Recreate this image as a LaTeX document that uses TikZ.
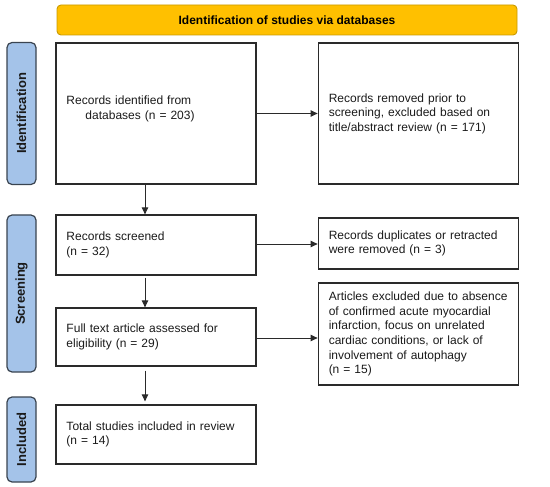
\documentclass[tikz,border=0pt]{standalone}
\usepackage{fontspec}
\setmainfont{Liberation Sans}
\usetikzlibrary{arrows.meta}
\definecolor{gold}{HTML}{FFC000}
\definecolor{goldedge}{HTML}{C99A00}
\definecolor{sideblue}{HTML}{A4C3E9}
\definecolor{sideedge}{HTML}{3A4450}
\definecolor{boxedge}{HTML}{2A2A2A}
\definecolor{txt}{HTML}{1A1A1A}
\begin{document}
\begin{tikzpicture}[x=1pt,y=-1pt,
  box/.style={draw=boxedge,line width=1.3pt,rectangle,inner xsep=10.5pt,inner ysep=2pt,
    align=left,text width=179pt,text=txt,font=\fontsize{12}{14.6}\selectfont},
  sidebar/.style={draw=sideedge,fill=sideblue,line width=1.2pt,rounded corners=5pt,
    rotate=90,minimum height=29pt,inner sep=0pt,text=txt,font=\bfseries\fontsize{13}{15}\selectfont},
  banner/.style={draw=goldedge,fill=gold,line width=0.9pt,rounded corners=4pt,
    minimum width=460pt,minimum height=30pt,inner sep=0pt,text=black,font=\bfseries\fontsize{12}{14}\selectfont},
  arr/.style={draw=boxedge,line width=0.9pt,-{Triangle[length=7pt,width=6.5pt]}}]
\useasboundingbox (0,0) rectangle (550,487);

\node[banner] (ban) at (287,20) {Identification of studies via databases};

\node[sidebar,minimum width=142pt] (sid) at (21.5,113.5) {Identification};
\node[sidebar,minimum width=157pt] (sscr) at (21.5,293.5) {Screening};
\node[sidebar,minimum width=85pt] (sinc) at (21.5,439.5) {Included};

\node[box,minimum height=141pt] (A) at (156,113.5)
  {Records identified from\\\hspace*{19pt}databases (n = 203)\\[-2.6pt]\mbox{}};
\node[box,minimum height=141pt] (B) at (418.25,113.5)
  {Records removed prior to\\screening, excluded based on\\title/abstract review (n = 171)};
\node[box,minimum height=60pt] (C) at (156,245)
  {Records screened\\(n = 32)};
\node[box,minimum height=51pt] (D) at (418.25,243.5)
  {Records duplicates or retracted\\were removed (n = 3)};
\node[box,minimum height=58pt] (E) at (156,337)
  {Full text article assessed for\\eligibility (n = 29)};
\node[box,minimum height=102pt] (F) at (418.25,334)
  {Articles excluded due to absence\\of confirmed acute myocardial\\infarction, focus on unrelated\\cardiac conditions, or lack of\\involvement of autophagy\\(n = 15)};
\node[box,minimum height=59pt] (G) at (156,434.5)
  {Total studies included in review\\(n = 14)};

\draw[arr] (A.east) -- (A.east -| B.west);
\draw[arr] ([yshift=1pt]C.east) -- ([yshift=1pt]C.east -| D.west);
\draw[arr] ([yshift=-1pt]E.east) -- ([yshift=-1pt]E.east -| F.west);
\draw[arr] ([xshift=-11pt]A.south) -- ([xshift=-11pt]C.north);
\draw[arr,shorten <=2pt] ([xshift=-11pt]C.south) -- ([xshift=-11pt]E.north);
\draw[arr,shorten <=4pt,shorten >=3pt] ([xshift=-11pt]E.south) -- ([xshift=-11pt]G.north);
\end{tikzpicture}
\end{document}
